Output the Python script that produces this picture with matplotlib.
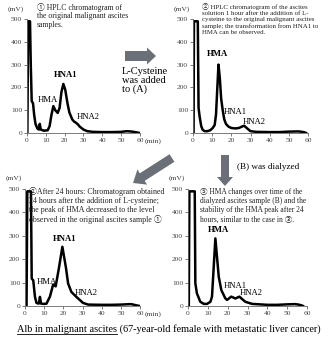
import matplotlib
matplotlib.use("Agg")
import matplotlib.pyplot as plt
from matplotlib.patches import FancyArrow

plt.rcParams['font.family'] = ['Liberation Serif', 'DejaVu Serif', 'Noto Sans CJK JP']

# Chromatogram traces: retention time (min) and detector signal (mV)
t_orig = [0.2, 0.6, 1.6, 2.0, 2.5, 3.2, 3.8, 4.5, 5.5, 6.3, 6.8, 7.3, 9, 11, 12, 13, 14, 15, 16.3,
          17.3, 18.3, 19.3, 20.3, 21.5, 22.5, 24, 25, 26, 27, 28, 30, 32, 35, 40, 45, 50, 53, 56,
          58, 60]
mv_orig = [0, 490, 490, 300, 140, 130, 80, 40, 20, 15, 40, 15, 10, 12, 30, 80, 118, 100, 88,
           110, 180, 215, 190, 130, 90, 60, 50, 45, 38, 28, 15, 8, 5, 4, 4, 5, 8, 6,
           3, 0]

t_1h = [0.3, 0.5, 2.5, 2.9, 3.5, 4.3, 5, 6, 7.5, 9, 10.3, 11.3, 12, 12.7, 13.3, 14, 14.7, 15.5,
        16.3, 17.2, 18.5, 20, 22, 24, 25.5, 26.7, 28, 30, 33, 40, 45, 50, 55, 57, 58.6, 59]
mv_1h = [0, 490, 490, 110, 70, 30, 15, 8, 8, 12, 22, 35, 80, 200, 300, 240, 150, 100,
         60, 40, 28, 22, 20, 22, 28, 32, 22, 8, 5, 4, 4, 6, 7, 5, 2, 0]

t_24h = [0.8, 1.2, 3.1, 3.5, 4.3, 5.2, 6, 7.2, 7.8, 8.4, 10, 11.2, 13, 14.7, 16, 17.8, 19.5,
         21.3, 22.5, 24.2, 26.8, 30.3, 33, 40, 45, 50, 55, 56, 58.5, 60]
mv_24h = [0, 490, 490, 117, 110, 39, 13, 10, 39, 10, 9, 10, 40, 92, 84, 167, 253,
          167, 96, 60, 39, 13, 6, 5, 5, 6, 8, 7, 2, 0]

t_dial = [0.4, 0.7, 3.4, 3.7, 4.5, 6.2, 8, 9.6, 11.3, 12.1, 13.8, 15.5, 16.8, 18.8, 19.7, 21.8,
          23.9, 25.9, 28.9, 32.3, 40, 45, 50, 54, 55.8, 57.5, 58]
mv_dial = [0, 490, 490, 97, 54, 18, 9, 9, 18, 40, 289, 125, 68, 33, 26, 40,
           32, 40, 18, 9, 5, 5, 7, 8, 6, 2, 0]

y_ticks = [0, 100, 200, 300, 400, 500]
x_ticks = [0, 10, 20, 30, 40, 50, 60]

# Peak labels: (text, time, mV, bold)
labels_orig = [("HNA1", 20.7, 254, True), ("HMA", 11.2, 145, False), ("HNA2", 32.4, 70, False)]
labels_1h = [("HMA", 13.0, 346, True), ("HNA1", 22.0, 92, False), ("HNA2", 31.8, 48, False)]
labels_24h = [("HNA1", 20.9, 286, True), ("HMA", 11.5, 103, False), ("HNA2", 31.8, 56, False)]
labels_dial = [("HMA", 15.6, 325, True), ("HNA1", 23.7, 85, False), ("HNA2", 31.8, 56, False)]

W, H = 330, 340
fig = plt.figure(figsize=(W / 100, H / 100), dpi=100)


def px_axes(x0, y_top, x1, y_bot):
    return fig.add_axes([x0 / W, 1 - y_bot / H, (x1 - x0) / W, (y_bot - y_top) / H])


def chromatogram(ax, t, mv, labels, show_units_x):
    ax.plot(t, mv, color='black', lw=1.8, solid_joinstyle='round')
    ax.set_xlim(0, 60)
    ax.set_ylim(0, 500)
    ax.set_xticks(x_ticks)
    ax.set_yticks(y_ticks)
    ax.tick_params(labelsize=5.4, length=2, width=0.5, pad=1.5, colors='#444444')
    for s in ('top', 'right'):
        ax.spines[s].set_visible(False)
    for s in ('left', 'bottom'):
        ax.spines[s].set_linewidth(0.6)
        ax.spines[s].set_color('#666666')
    ax.patch.set_alpha(0)
    for txt, x, y, bold in labels:
        ax.text(x, y, txt, ha='center', va='center', fontsize=6.2,
                fontweight='bold' if bold else 'normal')
    ax.text(-0.03, 1.09, "(mV)", transform=ax.transAxes, fontsize=5.4,
            ha='right', va='center', color='#333333')
    if show_units_x:
        ax.text(1.04, -0.045, "(min)", transform=ax.transAxes, fontsize=5.4,
                ha='left', va='top', color='#333333')


ax1 = px_axes(27, 19, 140, 133)
chromatogram(ax1, t_orig, mv_orig, labels_orig, True)
ax2 = px_axes(193, 19, 308, 133)
chromatogram(ax2, t_1h, mv_1h, labels_1h, False)
ax3 = px_axes(25, 189, 140, 306)
chromatogram(ax3, t_24h, mv_24h, labels_24h, True)
ax4 = px_axes(188, 189, 307, 306)
chromatogram(ax4, t_dial, mv_dial, labels_dial, False)

# Overlay in pixel units for notes and arrows
ov = fig.add_axes([0, 0, 1, 1])
ov.set_xlim(0, W)
ov.set_ylim(H, 0)
ov.axis('off')
ov.patch.set_alpha(0)

note_kw = dict(ha='left', va='top', color='#222222')
ov.text(37, 2.5, "① HPLC chromatogram of\nthe original malignant ascites\nsamples.",
        fontsize=5.6, linespacing=1.15, **note_kw)
ov.text(202, 2.5, "② HPLC chromatogram of the ascites\nsolution 1 hour after the addition of L-\n"
        "cysteine to the original malignant ascites\nsample; the transformation from HNA1 to\n"
        "HMA can be observed.", fontsize=4.95, linespacing=1.3, **note_kw)
ov.text(29, 187.5, "②After 24 hours: Chromatogram obtained\n24 hours after the addition of L-cysteine;\n"
        "the peak of HMA decreased to the level\nobserved in the original ascites sample ①",
        fontsize=5.7, linespacing=1.15, **note_kw)
ov.text(200, 188, "⑤ HMA changes over time of the\ndialyzed ascites sample (B) and the\n"
        "stability of the HMA peak after 24\nhours, similar to the case in ③.",
        fontsize=5.45, linespacing=1.2, **note_kw)

ov.text(122, 67, "L-Cysteine\nwas added\nto (A)", fontsize=7.5, ha='left', va='top', linespacing=0.95)
ov.text(237, 167, "(B) was dialyzed", fontsize=6.6, ha='left', va='center')

arrow_col = '#6b7078'
ov.add_patch(FancyArrow(125, 56, 31, 0, width=10, head_width=17, head_length=9,
                        length_includes_head=True, color=arrow_col, lw=0))
ov.add_patch(FancyArrow(172, 158, -39, 25, width=9, head_width=18, head_length=11,
                        length_includes_head=True, color=arrow_col, lw=0))
ov.add_patch(FancyArrow(225, 155, 0, 31, width=8, head_width=16, head_length=9,
                        length_includes_head=True, color=arrow_col, lw=0))

# Caption with the sample name underlined
cap_kw = dict(fontsize=7.4, ha='left', va='center')
head = ov.text(17, 329, "Alb in malignant ascites", **cap_kw)
fig.canvas.draw()
bb = head.get_window_extent()
inv = ov.transData.inverted()
(x_a, _), (x_b, _) = inv.transform([(bb.x0, bb.y0), (bb.x1, bb.y0)])
ov.text(x_b, 329, " (67-year-old female with metastatic liver cancer)", **cap_kw)
ov.plot([x_a, x_b], [334, 334], color='black', lw=0.6)

fig.savefig("out.png", dpi=100)
